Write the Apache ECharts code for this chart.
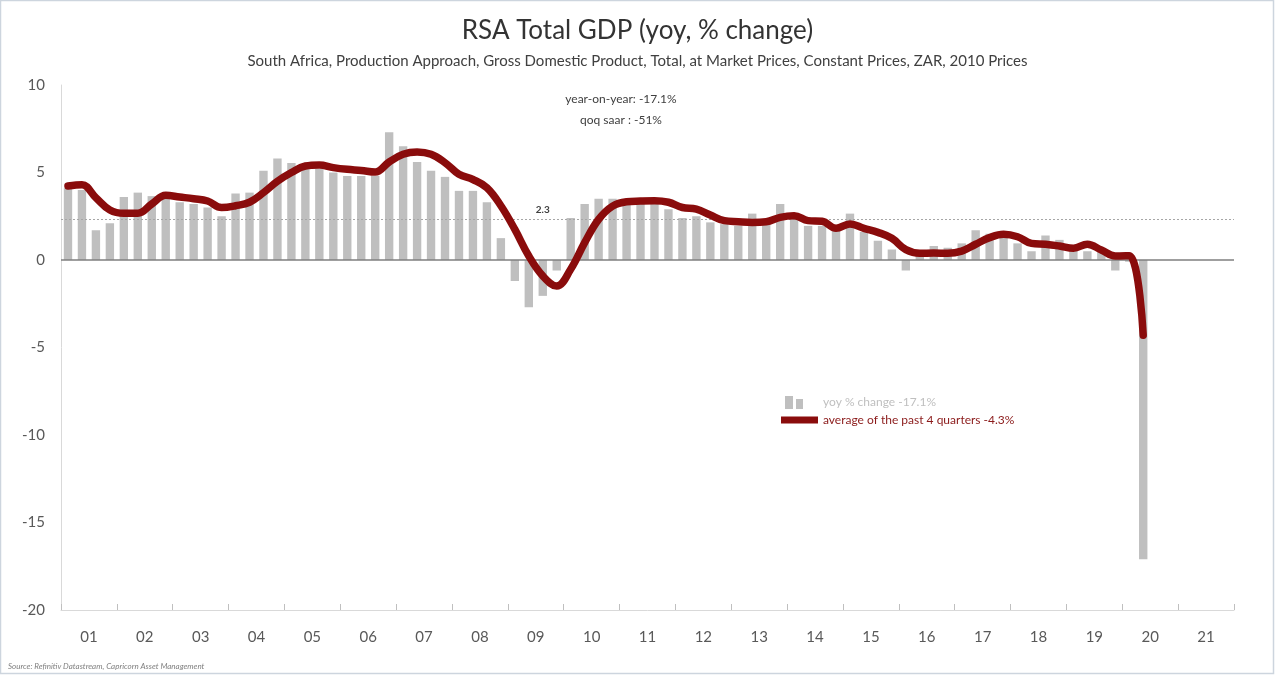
<!DOCTYPE html>
<html>
<head>
<meta charset="utf-8">
<script src="https://cdn.jsdelivr.net/npm/echarts@6/dist/echarts.min.js"></script>
<style>
html,body{margin:0;padding:0;background:#fff;}
#chart{width:1275px;height:675px;}
</style>
</head>
<body>
<div id="chart"></div>
<script>
// ---- data ----
const yearLabels = ['01','02','03','04','05','06','07','08','09','10','11','12','13','14','15','16','17','18','19','20','21'];
const quarterNames = ['Q1','Q2','Q3','Q4'];
// yoy % change, quarterly from 2001 Q1 to 2020 Q2
const yoyChange = [
  4.1, 4.0, 1.7, 2.1,   3.6, 3.85, 3.65, 3.5,   3.3, 3.2, 3.0, 2.5,
  3.8, 3.85, 5.1, 5.8,  5.55, 5.3, 5.2, 5.0,    4.8, 4.8, 4.8, 7.3,
  6.5, 5.6, 5.1, 4.75,  3.95, 3.95, 3.3, 1.25,  -1.2, -2.7, -2.05, -0.6,
  2.4, 3.2, 3.5, 3.5,   3.3, 3.3, 3.3, 2.9,     2.4, 2.5, 2.15, 2.05,
  1.95, 2.65, 2.25, 3.2, 2.5, 1.95, 1.95, 1.7,  2.65, 1.6, 1.1, 0.6,
  -0.6, 0.3, 0.8, 0.7,  0.95, 1.7, 1.5, 1.45,   0.95, 0.5, 1.4, 1.15,
  0.75, 0.5, 0.45, -0.6, -0.1, -17.1
];
// average of the past 4 quarters
const avg4q = [
  4.23, 4.3, 3.56, 2.86,  2.67, 2.67, 3.2, 3.7,   3.6, 3.5, 3.37, 3.0,
  3.1, 3.3, 3.85, 4.5,    5.0, 5.37, 5.43, 5.28,  5.18, 5.12, 5.03, 5.6,
  6.04, 6.17, 6.04, 5.56, 4.9, 4.6, 4.13, 3.1,    1.75, 0.23, -0.91, -1.49,
  -0.53, 0.99, 2.32, 3.08, 3.33, 3.37, 3.39, 3.3,  3.0, 2.91, 2.57, 2.25,
  2.19, 2.15, 2.19, 2.44, 2.53, 2.25, 2.21, 1.81,  2.06, 1.81, 1.58, 1.24,
  0.59, 0.38, 0.4, 0.38,  0.51, 0.9, 1.28, 1.47,  1.33, 0.95, 0.9, 0.8,
  0.67, 0.9, 0.57, 0.23,  0.25, -4.3
];
const refLevel = 2.3;
const refLabelQuarter = '2009Q3';
const yTicks = {min: -20, max: 10, interval: 5};

const titleText = 'RSA Total GDP (yoy, % change)';
const subtitleText = 'South Africa, Production Approach, Gross Domestic Product, Total, at Market Prices, Constant Prices, ZAR, 2010 Prices';
const noteText = 'year-on-year: -17.1%\nqoq saar : -51%';
const sourceText = 'Source: Refinitiv Datastream, Capricorn Asset Management';
const barName = 'yoy % change -17.1%';
const lineName = 'average of the past 4 quarters -4.3%';

// quarterly categories 2001Q1 .. 2021Q4
const quarterCats = [];
yearLabels.forEach(y => quarterNames.forEach(q => quarterCats.push('20' + y + q)));

const FONT = 'Lato, "Open Sans", sans-serif';
const chart = echarts.init(document.getElementById('chart'), null, {renderer: 'canvas'});

const option = {
  backgroundColor: '#ffffff',
  animation: false,
  textStyle: {fontFamily: FONT},
  title: [
    {text: titleText, left: 'center', top: 18, padding: 0,
     textStyle: {fontFamily: FONT, fontSize: 26, fontWeight: 'normal', color: '#333333'}},
    {text: subtitleText, left: 'center', top: 54, padding: 0,
     textStyle: {fontFamily: FONT, fontSize: 15, fontWeight: 'normal', color: '#404040'}},
    {text: noteText, left: 621, top: 89, textAlign: 'center', padding: 0,
     textStyle: {fontFamily: FONT, fontSize: 12, fontWeight: 'normal', color: '#404040', lineHeight: 21}},
    {text: sourceText, left: 8, top: 662, padding: 0,
     textStyle: {fontFamily: FONT, fontSize: 8, fontStyle: 'italic', fontWeight: 'normal', color: '#7f7f7f'}}
  ],
  legend: [
    {
      data: [{name: barName,
        icon: 'path://M0,14 L0.05,14 L0.05,13.95 Z M4,1 L12,1 L12,14 L4,14 Z M15,4 L22,4 L22,14 L15,14 Z M36.95,14 L37,14 L37,13.95 Z'}],
      left: 781, top: 396, padding: 0, itemWidth: 37, itemHeight: 14, itemGap: 0,
      selectedMode: false,
      textStyle: {fontFamily: FONT, fontSize: 12, color: '#bfbfbf'}
    },
    {
      data: [{name: lineName, icon: 'rect'}],
      left: 781, top: 414, padding: 0, itemWidth: 37, itemHeight: 7,
      selectedMode: false,
      textStyle: {fontFamily: FONT, fontSize: 12, color: '#8b1a1a'}
    }
  ],
  graphic: [
    {type: 'rect', shape: {x: 0.5, y: 0.5, width: 1273, height: 673},
     style: {fill: 'none', stroke: '#cdd5de', lineWidth: 1.5}, silent: true}
  ],
  grid: {left: 61, right: 41, top: 85, bottom: 65, containLabel: false},
  xAxis: [
    {type: 'category', data: quarterCats, boundaryGap: true,
     axisLine: {show: false}, axisTick: {show: false}, axisLabel: {show: false}, splitLine: {show: false}},
    {type: 'category', data: yearLabels, boundaryGap: true, position: 'bottom',
     axisLine: {show: true, onZero: false, lineStyle: {color: '#d9d9d9', width: 1}},
     axisTick: {show: true, inside: true, length: 6, interval: 0, lineStyle: {color: '#bfbfbf'}},
     axisLabel: {interval: 0, fontFamily: FONT, fontSize: 15, color: '#595959', margin: 20},
     splitLine: {show: false}}
  ],
  yAxis: {
    type: 'value', min: yTicks.min, max: yTicks.max, interval: yTicks.interval,
    axisLine: {show: true, lineStyle: {color: '#d9d9d9'}},
    axisTick: {show: false},
    axisLabel: {fontFamily: FONT, fontSize: 15, color: '#595959', margin: 16},
    splitLine: {show: false}
  },
  series: [
    {
      name: barName, type: 'bar', xAxisIndex: 0, data: yoyChange,
      barCategoryGap: '40%',
      itemStyle: {color: '#bfbfbf'},
      markLine: {
        silent: true, symbol: 'none', animation: false,
        label: {show: false},
        data: [
          {yAxis: 0, lineStyle: {color: '#7f7f7f', width: 1.5, type: 'solid'}},
          {yAxis: refLevel, lineStyle: {color: '#a6a6a6', width: 1.2, type: [2, 2]}}
        ]
      },
      markPoint: {
        silent: true, symbol: 'circle', symbolSize: 1,
        itemStyle: {color: 'rgba(0,0,0,0)'},
        label: {show: true, position: 'top', distance: 4, formatter: String(refLevel),
                fontFamily: FONT, fontSize: 10, fontWeight: 'bold', color: '#404040'},
        data: [{coord: [refLabelQuarter, refLevel]}]
      }
    },
    {
      name: lineName, type: 'line', xAxisIndex: 0, data: avg4q,
      smooth: 0.4, showSymbol: false, symbol: 'none', z: 5,
      lineStyle: {color: '#8a0c0c', width: 7.5, cap: 'round', join: 'round'},
      itemStyle: {color: '#8a0c0c'}
    }
  ]
};
chart.setOption(option);
</script>
</body>
</html>
